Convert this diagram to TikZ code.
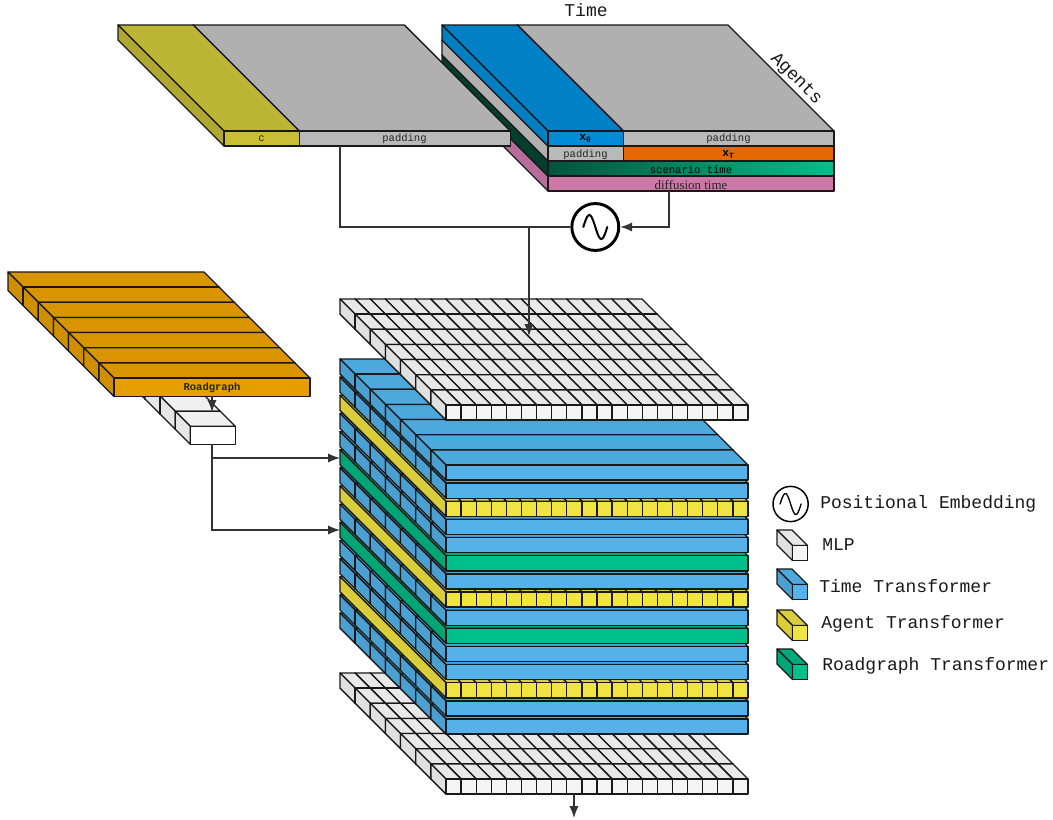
\documentclass[tikz,border=0pt]{standalone}
\usepackage{fontspec}
\setmainfont{Liberation Serif}
\setmonofont{Liberation Mono}
\usepackage{xcolor}
\usetikzlibrary{arrows.meta}

\definecolor{timetop}{HTML}{4DA8DD}
\definecolor{timeside}{HTML}{4BA0D2}
\definecolor{timefront}{HTML}{54B1E9}
\definecolor{agenttop}{HTML}{D8CD3C}
\definecolor{agentside}{HTML}{D9CE3A}
\definecolor{agentfront}{HTML}{F0E442}
\definecolor{roadtop}{HTML}{00A97A}
\definecolor{roadside}{HTML}{00A575}
\definecolor{roadfront}{HTML}{00BF8A}
\definecolor{mlptop}{HTML}{E8E8E8}
\definecolor{mlpside}{HTML}{E0E0E0}
\definecolor{mlpfront}{HTML}{F5F5F5}
\definecolor{maskertop}{HTML}{F0F0F0}
\definecolor{maskerside}{HTML}{E6E6E6}
\definecolor{maskerfront}{HTML}{FFFFFF}
\definecolor{maptop}{HTML}{D89500}
\definecolor{mapside}{HTML}{CF8F00}
\definecolor{mapfront}{HTML}{E69F00}
\definecolor{condtop}{HTML}{BDB535}
\definecolor{condside}{HTML}{B0A832}
\definecolor{condfront}{HTML}{CABF33}
\definecolor{padtop}{HTML}{B0B0B0}
\definecolor{padside}{HTML}{B0B0B0}
\definecolor{padfront}{HTML}{B9B9B9}
\definecolor{xzerotop}{HTML}{0080C6}
\definecolor{xzeroside}{HTML}{007FC2}
\definecolor{xzerofront}{HTML}{008CD8}
\definecolor{xendtop}{HTML}{E66600}
\definecolor{xendside}{HTML}{E66600}
\definecolor{xendfront}{HTML}{E66600}
\definecolor{scentop}{HTML}{003F2E}
\definecolor{scenside}{HTML}{003F2E}
\definecolor{scenfront}{HTML}{00543C}
\definecolor{difftop}{HTML}{B86C98}
\definecolor{diffside}{HTML}{B86C98}
\definecolor{difffront}{HTML}{CC79A7}

% x, y of the back corner, width, height, depth, colour family
\newcommand{\isobox}[6]{
  \draw[cell, fill=#6top] ({#1},{#2}) -- ++(#3,0) -- ++(#5,#5) -- ++(-#3,0) -- cycle;
  \draw[cell, fill=#6side] ({#1},{#2}) -- ++(#5,#5) -- ++(0,#4) -- ++(-#5,-#5) -- cycle;
  \draw[cell, fill=#6front] ({#1},{#2}) ++(#5,#5) rectangle ++(#3,#4);
}
% y of the back corner of a stack layer at x=340
\newcommand{\cellgrid}[2]{
  \foreach \r in {0,...,6} {
    \foreach \c in {19,...,0} {
      \isobox{340+\r*15.14+\c*15.1}{#1+\r*15.14}{15.1}{15.14}{15.14}{#2}
    }
  }
}
\newcommand{\rowlayer}[1]{
  \foreach \r in {0,...,6} {
    \isobox{340+\r*15.14}{#1+\r*15.14}{302}{15.14}{15.14}{time}
  }
}
\newcommand{\columnlayer}[1]{
  \foreach \c in {19,...,0} {
    \isobox{340+\c*15.1}{#1}{15.1}{15.14}{106}{agent}
  }
}
\newcommand{\slablayer}[1]{
  \isobox{340}{#1}{302}{15.14}{106}{road}
}
\newcommand{\sinewave}[4]{
  \draw[#4, line cap=round] plot[smooth, samples=25, domain=-1:1] ({#1+\x*#3}, {#2+#3*sin(180*\x)});
}

\begin{document}
\begin{tikzpicture}[
  x=0.75pt, y=-0.75pt,
  cell/.style={draw=black!90, line width=1pt, line join=round},
  conn/.style={draw=black!80, line width=1pt},
  arr/.style={conn, -{Latex[length=9pt,width=7pt]}},
  tag/.style={font=\ttfamily\fontsize{7.9}{9}\selectfont, text=black!85, inner sep=0pt},
  lbl/.style={font=\ttfamily\fontsize{13.5}{16}\selectfont, text=black!90, inner sep=0pt},
  posring/.style={circle, draw=black, fill=white, inner sep=0pt}
]
  \useasboundingbox (0,0) rectangle (1053,820);

  % bottom grid and the stack, from the lowest layer up
  \cellgrid{673}{mlp}
  \rowlayer{613} \rowlayer{594.9}
  \columnlayer{576.8}
  \rowlayer{558.6} \rowlayer{540.5}
  \slablayer{522.3}
  \rowlayer{504.2}
  \columnlayer{486}
  \rowlayer{467.9}
  \slablayer{449.7}
  \rowlayer{431.6} \rowlayer{413.4}
  \columnlayer{395.3}
  \rowlayer{377.1} \rowlayer{359}
  \cellgrid{299}{mlp}

  % time and agents tensor
  \isobox{442}{70}{286}{15}{106}{diff}
  \isobox{442}{55}{286}{15}{106}{scen}
  \path[cell, left color=scenfront, right color=roadfront] (548,161) rectangle (834,176);
  \isobox{517.3}{40}{210.7}{15}{106}{xend}
  \isobox{442}{40}{75.3}{15}{106}{pad}
  \isobox{517.3}{25}{210.7}{15}{106}{pad}
  \isobox{442}{25}{75.3}{15}{106}{xzero}
  \node[tag, font=\ttfamily\bfseries\fontsize{8.5}{9}\selectfont, text=black] (xzero) at (585.5,139) {x\textsubscript{θ}};
  \node[tag] (padtime) at (728.5,138.5) {padding};
  \node[tag] (padagent) at (585.5,154.5) {padding};
  \node[tag, font=\ttfamily\bfseries\fontsize{8.5}{9}\selectfont, text=black] (xend) at (728.5,154.5) {x\textsubscript{T}};
  \node[tag, text=black] (scenario) at (691,169.5) {scenario time};
  \node[tag, font=\rmfamily\fontsize{9.7}{11}\selectfont] (diffusion) at (691,185) {diffusion time};

  % context tensor
  \isobox{193.3}{25}{211}{15}{106}{pad}
  \isobox{118}{25}{75.3}{15}{106}{cond}
  \node[tag] (cond) at (261.5,139) {c};
  \node[tag] (padcond) at (404.5,138.5) {padding};

  \node[lbl] (timelbl) at (586,10) {Time};
  \node[lbl, rotate=-45] (agentslbl) at (796,79) {Agents};

  % roadgraph and its mlp
  \foreach \r in {0,...,6} {
    \isobox{84.4+\r*15.14}{320.4+\r*15.14}{45}{18}{15.14}{masker}
  }
  \foreach \r in {0,...,6} {
    \isobox{8+\r*15.14}{272+\r*15.14}{196}{18.5}{15.14}{map}
  }
  \node[tag, font=\ttfamily\bfseries\fontsize{7.9}{9}\selectfont] (roadgraph) at (212,388) {Roadgraph};

  % positional embedding
  \node[posring, minimum size=35.2pt, line width=2.2pt] (posemb) at (595.3,227) {};
  \sinewave{595.3}{227}{12}{line width=1.5pt}

  \coordinate (condout) at (340,146);
  \coordinate (timeout) at (669,191);
  \coordinate (joinpt) at (529,227);
  \coordinate (stackin) at (529,336);
  \coordinate (mapout) at (212,396);
  \coordinate (maskerin) at (212,412);
  \coordinate (maskerout) at (212,444);
  \coordinate (stackupper) at (340,458);
  \coordinate (stacklower) at (340,530);
  \coordinate (gridout) at (574,794);
  \coordinate (finalpt) at (574,818);

  \draw[conn] (condout) |- (posemb.west);
  \draw[arr] (timeout) |- (posemb.east);
  \draw[arr] (joinpt) -- (stackin);
  \draw[arr] (mapout) -- (maskerin);
  \draw[arr] (maskerout) |- (stackupper);
  \draw[arr] (maskerout) |- (stacklower);
  \draw[arr] (gridout) -- (finalpt);

  % legend
  \node[posring, minimum size=26.4pt, line width=1.1pt] (legpos) at (790.6,504) {};
  \sinewave{790.6}{504}{10.5}{line width=1pt}
  \node[lbl, anchor=base west] (legposlbl) at (820,508) {Positional Embedding};
  \isobox{777}{530}{15}{15}{15.5}{mlp}
  \node[lbl, anchor=base west] (legmlp) at (822,550) {MLP};
  \isobox{777}{569}{15}{15}{15.5}{time}
  \node[lbl, anchor=base west] (legtime) at (819,592) {Time Transformer};
  \isobox{777}{610}{15}{15}{15.5}{agent}
  \node[lbl, anchor=base west] (legagent) at (821,628) {Agent Transformer};
  \isobox{777}{649}{15}{15}{15.5}{road}
  \node[lbl, anchor=base west] (legroad) at (822,670) {Roadgraph Transformer};
\end{tikzpicture}
\end{document}
